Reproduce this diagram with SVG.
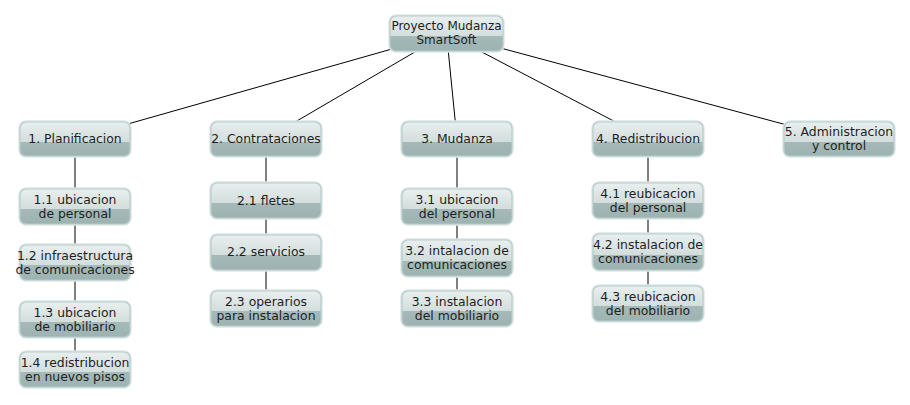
<svg xmlns="http://www.w3.org/2000/svg" width="910" height="405" viewBox="0 0 910 405">
<defs>
<linearGradient id="g" x1="0" y1="0" x2="0" y2="1">
<stop offset="0" stop-color="#e9efef"/>
<stop offset="0.58" stop-color="#d2dddc"/>
<stop offset="0.58" stop-color="#a5bab8"/>
<stop offset="1" stop-color="#9db3b1"/>
</linearGradient>
</defs>
<style>
.glow{fill:none;stroke:#dfe8e7;stroke-width:3.5}
.box{fill:url(#g);stroke:#b6cbc9;stroke-width:1.2}
text{font-family:"DejaVu Sans",sans-serif;font-size:12.4px;fill:#1e1e1e;text-anchor:middle}
#root text{font-size:12px}
.c line{stroke:#000;stroke-width:1}
</style>
<rect width="910" height="405" fill="#fff"/>
<g class="c" id="connectors">
<line x1="446.5" y1="33.5" x2="75" y2="139"/>
<line x1="446.5" y1="33.5" x2="266" y2="139"/>
<line x1="446.5" y1="33.5" x2="457" y2="139"/>
<line x1="446.5" y1="33.5" x2="648" y2="139"/>
<line x1="446.5" y1="33.5" x2="839" y2="139"/>
<line x1="75" y1="156" x2="75" y2="189"/>
<line x1="75" y1="224" x2="75" y2="245"/>
<line x1="75" y1="280" x2="75" y2="302"/>
<line x1="75" y1="337" x2="75" y2="352"/>
<line x1="266" y1="156" x2="266" y2="183"/>
<line x1="266" y1="218" x2="266" y2="235"/>
<line x1="266" y1="270" x2="266" y2="291"/>
<line x1="457" y1="156" x2="457" y2="189"/>
<line x1="457" y1="224" x2="457" y2="240"/>
<line x1="457" y1="276" x2="457" y2="291"/>
<line x1="648" y1="156" x2="648" y2="183"/>
<line x1="648" y1="218" x2="648" y2="234"/>
<line x1="648" y1="270" x2="648" y2="286"/>
</g>
<g id="root"><rect class="glow" x="390" y="16" width="113" height="35" rx="6"/><rect class="box" x="390" y="16" width="113" height="35" rx="6"/><text x="446.5" y="30">Proyecto Mudanza</text><text x="446.5" y="44">SmartSoft</text></g>
<g id="n1"><rect class="glow" x="20" y="122" width="110" height="34" rx="6"/><rect class="box" x="20" y="122" width="110" height="34" rx="6"/><text x="75" y="143">1. Planificacion</text></g>
<g id="n2"><rect class="glow" x="211" y="122" width="110" height="34" rx="6"/><rect class="box" x="211" y="122" width="110" height="34" rx="6"/><text x="266" y="143">2. Contrataciones</text></g>
<g id="n3"><rect class="glow" x="402" y="122" width="110" height="34" rx="6"/><rect class="box" x="402" y="122" width="110" height="34" rx="6"/><text x="457" y="143">3. Mudanza</text></g>
<g id="n4"><rect class="glow" x="593" y="122" width="110" height="34" rx="6"/><rect class="box" x="593" y="122" width="110" height="34" rx="6"/><text x="648" y="143">4. Redistribucion</text></g>
<g id="n5"><rect class="glow" x="784" y="122" width="110" height="34" rx="6"/><rect class="box" x="784" y="122" width="110" height="34" rx="6"/><text x="839" y="136">5. Administracion</text><text x="839" y="150">y control</text></g>
<g id="n11"><rect class="glow" x="20" y="189" width="110" height="35" rx="6"/><rect class="box" x="20" y="189" width="110" height="35" rx="6"/><text x="75" y="204">1.1 ubicacion</text><text x="75" y="218">de personal</text></g>
<g id="n12"><rect class="glow" x="20" y="245" width="110" height="35" rx="6"/><rect class="box" x="20" y="245" width="110" height="35" rx="6"/><text x="75" y="260">1.2 infraestructura</text><text x="75" y="274">de comunicaciones</text></g>
<g id="n13"><rect class="glow" x="20" y="302" width="110" height="35" rx="6"/><rect class="box" x="20" y="302" width="110" height="35" rx="6"/><text x="75" y="317">1.3 ubicacion</text><text x="75" y="331">de mobiliario</text></g>
<g id="n14"><rect class="glow" x="20" y="352" width="110" height="35" rx="6"/><rect class="box" x="20" y="352" width="110" height="35" rx="6"/><text x="75" y="367">1.4 redistribucion</text><text x="75" y="381">en nuevos pisos</text></g>
<g id="n21"><rect class="glow" x="211" y="183" width="110" height="35" rx="6"/><rect class="box" x="211" y="183" width="110" height="35" rx="6"/><text x="266" y="205">2.1 fletes</text></g>
<g id="n22"><rect class="glow" x="211" y="235" width="110" height="35" rx="6"/><rect class="box" x="211" y="235" width="110" height="35" rx="6"/><text x="266" y="256">2.2 servicios</text></g>
<g id="n23"><rect class="glow" x="211" y="291" width="110" height="35" rx="6"/><rect class="box" x="211" y="291" width="110" height="35" rx="6"/><text x="266" y="306">2.3 operarios</text><text x="266" y="320">para instalacion</text></g>
<g id="n31"><rect class="glow" x="402" y="189" width="110" height="35" rx="6"/><rect class="box" x="402" y="189" width="110" height="35" rx="6"/><text x="457" y="204">3.1 ubicacion</text><text x="457" y="218">del personal</text></g>
<g id="n32"><rect class="glow" x="402" y="240" width="110" height="36" rx="6"/><rect class="box" x="402" y="240" width="110" height="36" rx="6"/><text x="457" y="255">3.2 intalacion de</text><text x="457" y="269">comunicaciones</text></g>
<g id="n33"><rect class="glow" x="402" y="291" width="110" height="35" rx="6"/><rect class="box" x="402" y="291" width="110" height="35" rx="6"/><text x="457" y="306">3.3 instalacion</text><text x="457" y="320">del mobiliario</text></g>
<g id="n41"><rect class="glow" x="593" y="183" width="110" height="35" rx="6"/><rect class="box" x="593" y="183" width="110" height="35" rx="6"/><text x="648" y="198">4.1 reubicacion</text><text x="648" y="212">del personal</text></g>
<g id="n42"><rect class="glow" x="593" y="234" width="110" height="36" rx="6"/><rect class="box" x="593" y="234" width="110" height="36" rx="6"/><text x="648" y="249">4.2 instalacion de</text><text x="648" y="263">comunicaciones</text></g>
<g id="n43"><rect class="glow" x="593" y="286" width="110" height="35" rx="6"/><rect class="box" x="593" y="286" width="110" height="35" rx="6"/><text x="648" y="301">4.3 reubicacion</text><text x="648" y="315">del mobiliario</text></g>
</svg>
